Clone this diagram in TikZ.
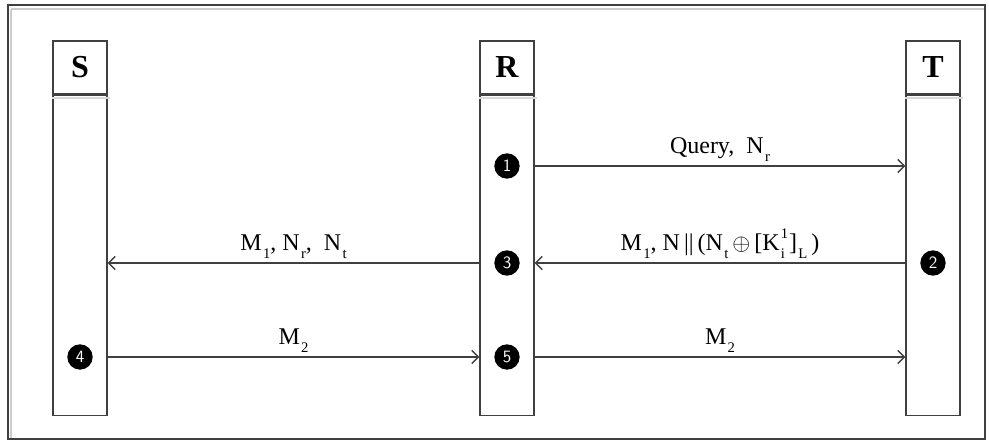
\documentclass[tikz,border=0pt]{standalone}
\usepackage{fontspec}
\setmainfont{Liberation Serif}
\usetikzlibrary{positioning,arrows.meta}
\newcommand{\subtx}[1]{\kern1pt\raisebox{-0.7ex}{\fontsize{11}{11}\selectfont #1}}
\newcommand{\suptx}[1]{\kern1pt\raisebox{1.1ex}{\fontsize{11}{11}\selectfont #1}}

\begin{document}
\begin{tikzpicture}[x=0.75pt, y=-0.75pt, line width=1pt,
	head/.style={draw=black!75, minimum width=40.5pt, minimum height=39.75pt, inner sep=0pt, font=\fontsize{24}{26}\selectfont\bfseries},
	life/.style={draw=black!75, minimum width=40.5pt, minimum height=240pt, inner sep=0pt},
	num/.style={circle, fill=black, text=white, minimum size=19pt, inner sep=0pt, font=\sffamily\fontsize{13}{13}\selectfont},
	msg/.style={draw=black!75, -{Straight Barb[length=5pt, width=10pt]}},
	lbl/.style={font=\fontsize{18}{20}\selectfont, inner sep=3pt}]
	\useasboundingbox (0,0) rectangle (989,441);
	\draw[black!20, line width=2pt] (11,9) -- (985,9) (11,9) -- (11,439);
	\draw[black!75, line width=1.5pt] (8,5) rectangle (985,439);
	
	\node[head] (S) at (80, 67.5) {S};
	\node[head] (R) at (507, 67.5) {R};
	\node[head] (T) at (933, 67.5) {T};
	\node[life, below=0pt of S] (Sl) {};
	\node[life, below=0pt of R] (Rl) {};
	\node[life, below=0pt of T] (Tl) {};
	\foreach \p in {S, R, T} % light rule under each header
		\draw[black!15, line width=1.5pt] ([yshift=-2.25pt]\p.south west) -- ([xshift=1.5pt, yshift=-2.25pt]\p.south east);
	
	\node[num] (n1) at (507, 166) {1};
	\node[num] (n2) at (933, 263) {2};
	\node[num] (n3) at (507, 263) {3};
	\node[num] (n4) at (80, 357) {4};
	\node[num] (n5) at (507, 357) {5};
	
	\draw[msg] (n1 -| Rl.east) -- node[lbl, above] {Query,\ \ N\subtx{r}} (n1 -| Tl.west);
	\draw[msg] (n2 -| Tl.west) -- node[lbl, above] {M\subtx{1}, N\,||\,(N\subtx{t}\,$\oplus$\,[K\rlap{\suptx{1}}\subtx{i}\,]\subtx{L}\,)} (n3 -| Rl.east);
	\draw[msg] (n3 -| Rl.west) -- node[lbl, above] {M\subtx{1}, N\subtx{r}, \ N\subtx{t}} (n3 -| Sl.east);
	\draw[msg] (n4 -| Sl.east) -- node[lbl, above] {M\subtx{2}} (n5 -| Rl.west);
	\draw[msg] (n5 -| Rl.east) -- node[lbl, above] {M\subtx{2}} (n5 -| Tl.west);
\end{tikzpicture}
\end{document}
